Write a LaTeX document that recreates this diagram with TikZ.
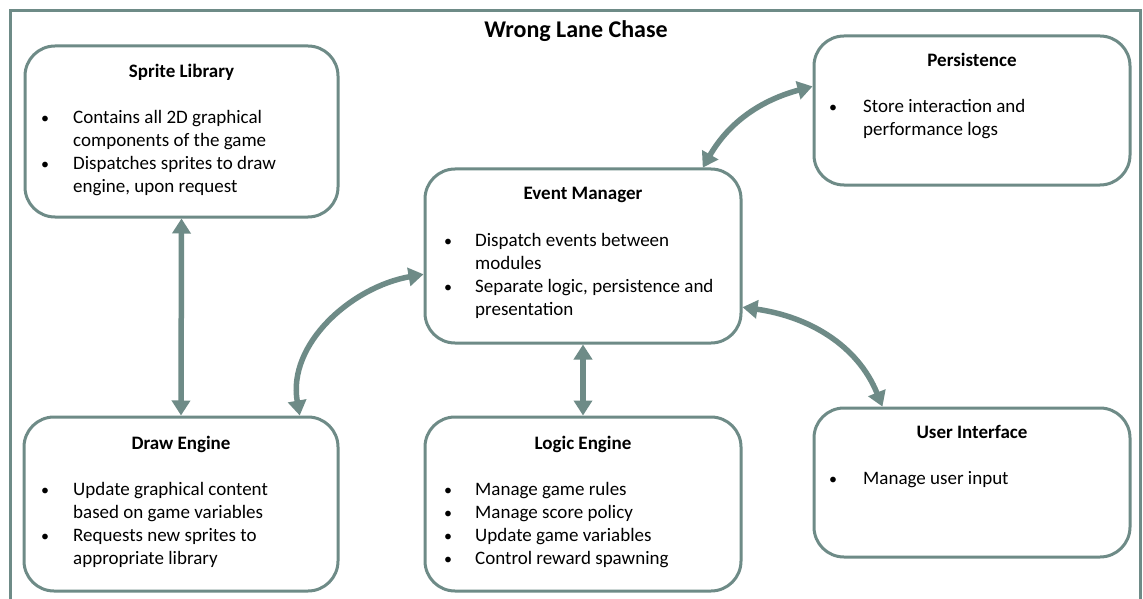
\documentclass[tikz,border=0pt]{standalone}
\usepackage{fontspec}
\setmainfont{Carlito}
\usetikzlibrary{arrows.meta}
\definecolor{slate}{HTML}{6E8B87}
% two stacked lines whose reference point is the first baseline
\newcommand\linepair[2]{\vtop{\hbox{#1}\hbox{#2}}}
\tikzset{
  x=1bp, y=1bp,
  module/.style={draw=slate, line width=3bp, rounded corners=30bp, fill=white,
    anchor=north west, inner sep=0pt, outer sep=0pt},
  head/.style={font=\fontsize{19bp}{23bp}\selectfont\bfseries, anchor=base, inner sep=0pt},
  body/.style={font=\fontsize{19bp}{23bp}\selectfont, anchor=base west, inner sep=0pt},
  dot/.style={font=\fontsize{16bp}{23bp}\selectfont, anchor=base, inner sep=0pt},
  link/.style={draw=slate, line width=5.5bp, shorten <=1.5bp, shorten >=1.5bp,
    {Triangle[width=18bp,length=15bp]}-{Triangle[width=18bp,length=15bp]}},
}
\begin{document}
\begin{tikzpicture}
\useasboundingbox (0,0) rectangle (1143,-599);
\clip (0,0) rectangle (1143,-599);
\fill[white] (0,0) rectangle (1143,-599);

% outer frame, open at the bottom
\draw[slate, line width=3bp] (10,-620) -- (10,-11) -- (1140,-11) -- (1140,-620);

\node[font=\fontsize{24bp}{28bp}\selectfont\bfseries, anchor=base, inner sep=0pt] (title) at (576,-38) {Wrong Lane Chase};

% modules
\node[module, minimum width=313bp, minimum height=171bp] (spr) at (25,-46) {};
\node[module, minimum width=316bp, minimum height=149bp] (per) at (814,-36) {};
\node[module, minimum width=316bp, minimum height=174bp] (em)  at (425,-169) {};
\node[module, minimum width=314bp, minimum height=174bp] (drw) at (24,-417) {};
\node[module, minimum width=316bp, minimum height=174bp] (log) at (425,-417) {};
\node[module, minimum width=316bp, minimum height=149bp] (ui)  at (814,-408) {};

% Sprite Library
\node[head] (sprT) at (181.5,-78) {Sprite Library};
\node[dot] (sprB1) at (45,-124) {•};
\node[dot] (sprB2) at (45,-170) {•};
\node[body] (sprL1) at (73,-124) {\linepair{Contains all 2D graphical}{components of the game}};
\node[body] (sprL2) at (73,-170) {\linepair{Dispatches sprites to draw}{engine, upon request}};

% Persistence
\node[head] (perT) at (972,-67) {Persistence};
\node[dot] (perB1) at (833,-113) {•};
\node[body] (perL1) at (863,-113) {\linepair{Store interaction and}{performance logs}};

% Event Manager
\node[head] (emT) at (583,-200) {Event Manager};
\node[dot] (emB1) at (448,-247) {•};
\node[dot] (emB2) at (448,-293) {•};
\node[body] (emL1) at (475,-247) {\linepair{Dispatch events between}{modules}};
\node[body] (emL2) at (475,-293) {\linepair{Separate logic, persistence and}{presentation}};

% Draw Engine
\node[head] (drwT) at (181,-449) {Draw Engine};
\node[dot] (drwB1) at (45,-495) {•};
\node[dot] (drwB2) at (45,-541) {•};
\node[body] (drwL1) at (73,-495) {\linepair{Update graphical content}{based on game variables}};
\node[body] (drwL2) at (73,-541) {\linepair{Requests new sprites to}{appropriate library}};

% Logic Engine
\node[head] (logT) at (583,-449) {Logic Engine};
\node[dot] (logB1) at (448,-495) {•};
\node[dot] (logB2) at (448,-518) {•};
\node[dot] (logB3) at (448,-541) {•};
\node[dot] (logB4) at (448,-564) {•};
\node[body] (logL1) at (475,-495) {Manage game rules};
\node[body] (logL2) at (475,-518) {Manage score policy};
\node[body] (logL3) at (475,-541) {Update game variables};
\node[body] (logL4) at (475,-564) {Control reward spawning};

% User Interface
\node[head] (uiT) at (972,-438) {User Interface};
\node[dot] (uiB1) at (833,-484) {•};
\node[body] (uiL1) at (863,-484) {Manage user input};

% connections
\draw[link] (spr.south) -- (drw.north);
\draw[link] (em.south) -- (log.north);
\draw[link] ([xshift=119bp]drw.north) to[out=100,in=190] ([yshift=-18bp]em.west);
\draw[link] ([xshift=119bp]em.north) to[out=60,in=195] ([yshift=24.5bp]per.west);
\draw[link] ([yshift=-51bp]em.east) to[out=-8,in=112] ([xshift=-89bp]ui.north);
\end{tikzpicture}
\end{document}
